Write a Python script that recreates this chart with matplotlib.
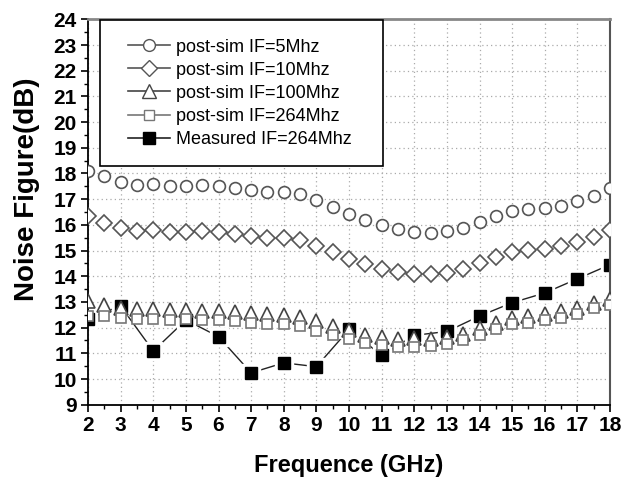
import matplotlib
matplotlib.use("Agg")
import matplotlib.pyplot as plt
from matplotlib.lines import Line2D
from matplotlib.legend_handler import HandlerLine2D
from matplotlib.ticker import MultipleLocator

# frequency grid of the post-sim sweeps (0.5 GHz step) and the measurement (1 GHz step)
freq_sim = [2, 2.5, 3, 3.5, 4, 4.5, 5, 5.5, 6, 6.5, 7, 7.5, 8, 8.5, 9, 9.5, 10,
            10.5, 11, 11.5, 12, 12.5, 13, 13.5, 14, 14.5, 15, 15.5, 16, 16.5, 17, 17.5, 18]
freq_meas = [2, 3, 4, 5, 6, 7, 8, 9, 10, 11, 12, 13, 14, 15, 16, 17, 18]

nf_5mhz = [18.1, 17.91, 17.65, 17.56, 17.6, 17.52, 17.52, 17.54, 17.52, 17.44, 17.35,
           17.28, 17.26, 17.22, 16.96, 16.68, 16.43, 16.18, 15.98, 15.83, 15.73, 15.69,
           15.77, 15.88, 16.1, 16.33, 16.54, 16.62, 16.66, 16.75, 16.92, 17.13, 17.44]
nf_10mhz = [16.35, 16.08, 15.86, 15.75, 15.79, 15.73, 15.73, 15.75, 15.73, 15.64, 15.56,
            15.49, 15.49, 15.43, 15.18, 14.95, 14.68, 14.47, 14.3, 14.17, 14.07, 14.07,
            14.13, 14.3, 14.5, 14.75, 14.95, 15.02, 15.08, 15.17, 15.34, 15.51, 15.79]
nf_100mhz = [13.05, 12.9, 12.76, 12.73, 12.73, 12.69, 12.7, 12.66, 12.66, 12.6, 12.56,
             12.53, 12.5, 12.43, 12.26, 12.05, 11.9, 11.73, 11.64, 11.57, 11.61, 11.57,
             11.65, 11.75, 12.0, 12.2, 12.39, 12.45, 12.54, 12.65, 12.75, 12.96, 13.13]
nf_264mhz = [12.45, 12.45, 12.36, 12.32, 12.32, 12.3, 12.32, 12.3, 12.29, 12.24, 12.17,
             12.16, 12.14, 12.07, 11.88, 11.7, 11.55, 11.4, 11.31, 11.25, 11.25, 11.28,
             11.38, 11.5, 11.73, 11.94, 12.13, 12.2, 12.29, 12.36, 12.54, 12.75, 12.9]
nf_measured = [12.35, 12.84, 11.09, 12.3, 11.65, 10.24, 10.63, 10.48, 11.93, 10.92,
               11.7, 11.85, 12.45, 12.97, 13.35, 13.9, 14.45]

labels = ["post-sim IF=5Mhz", "post-sim IF=10Mhz", "post-sim IF=100Mhz",
          "post-sim IF=264Mhz", "Measured IF=264Mhz"]

bold_font = ["Liberation Sans Narrow", "Liberation Sans", "DejaVu Sans"]
plt.rcParams["font.family"] = ["Liberation Sans", "DejaVu Sans"]

fig = plt.figure(figsize=(6.27, 4.84), dpi=100)
ax = fig.add_axes([0.1404, 0.1638, 0.8325, 0.7963])

# measured curve: line with a white halo round each marker so segments stop short
ax.plot(freq_meas, nf_measured, color="#222222", lw=1.0, zorder=2)
ax.plot(freq_meas, nf_measured, ls="none", marker="s", ms=13, mfc="white",
        mec="white", zorder=2.1)
ax.plot(freq_meas, nf_measured, ls="none", marker="s", ms=8.5, mfc="black",
        mec="black", zorder=2.2)

sim_styles = [
    (nf_5mhz, "o", 8.5, "#555555"),
    (nf_10mhz, "D", 8.5, "#555555"),
    (nf_100mhz, "^", 10, "#444444"),
    (nf_264mhz, "s", 7.5, "#777777"),
]
for vals, mk, ms, col in sim_styles:
    ax.plot(freq_sim, vals, ls="none", marker=mk, ms=ms, mfc="white", mec=col,
            mew=1.2, zorder=3)

ax.set_xlim(2, 18)
ax.set_ylim(9, 24)
ax.xaxis.set_major_locator(MultipleLocator(1))
ax.xaxis.set_minor_locator(MultipleLocator(0.5))
ax.yaxis.set_major_locator(MultipleLocator(1))
ax.yaxis.set_minor_locator(MultipleLocator(0.5))
ax.tick_params(which="major", direction="out", length=5, width=1.2, pad=3)
ax.tick_params(which="minor", direction="out", length=3, width=1.0)
for lab in ax.get_xticklabels() + ax.get_yticklabels():
    lab.set_family(bold_font)
    lab.set_fontweight("bold")
    lab.set_fontsize(15)

ax.grid(True, which="major", ls=(0, (1, 2.5)), color="#aaaaaa", lw=0.9)
ax.set_axisbelow(True)

ax.spines["left"].set_linewidth(1.3)
ax.spines["bottom"].set_linewidth(1.3)
ax.spines["top"].set_color("#888888")
ax.spines["top"].set_linewidth(2.0)
ax.spines["right"].set_color("#555555")
ax.spines["right"].set_linewidth(1.5)

ax.set_xlabel("Frequence (GHz)", family=bold_font, fontweight="bold",
              fontsize=17, labelpad=14)
ax.set_ylabel("Noise Figure(dB)", family=bold_font, fontweight="bold", fontsize=20)
ax.yaxis.set_label_coords(-0.092, 0.56)

handles = [
    Line2D([], [], color="#555555", lw=1.2, marker="o", ms=8.5, mfc="white", mec="#555555"),
    Line2D([], [], color="#555555", lw=1.2, marker="D", ms=8.5, mfc="white", mec="#555555"),
    Line2D([], [], color="#444444", lw=1.2, marker="^", ms=10, mfc="white", mec="#444444"),
    Line2D([], [], color="#777777", lw=1.2, marker="s", ms=7.5, mfc="white", mec="#777777"),
    Line2D([], [], color="#222222", lw=1.2, marker="s", ms=8.5, mfc="black", mec="black"),
]
leg = ax.legend(handles, labels, loc="upper left", mode="expand",
                bbox_to_anchor=(0.023, 0.63, 0.5416, 0.367), borderaxespad=0,
                fontsize=13, labelspacing=0.34, borderpad=1.0, handlelength=2.85,
                handletextpad=0.35, fancybox=False, framealpha=1,
                handler_map={Line2D: HandlerLine2D(xpad=0.55)})
leg.get_frame().set_edgecolor("black")
leg.get_frame().set_linewidth(1.2)
leg.set_zorder(5)

fig.savefig("out.png", dpi=100)
